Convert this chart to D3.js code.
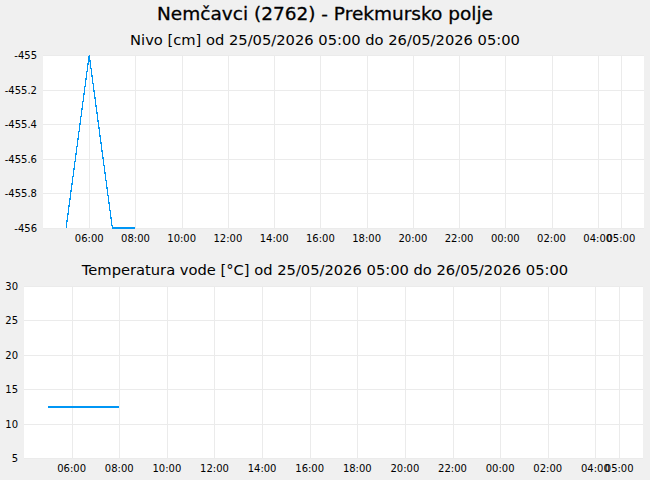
<!DOCTYPE html>
<html>
<head>
<meta charset="utf-8">
<script src="https://cdn.jsdelivr.net/npm/d3@7"></script>
<style>
  body { margin: 0; background: #f0f0f0; }
  text { font-family: "DejaVu Sans", sans-serif; fill: #000; }
</style>
</head>
<body>
<div id="chart"></div>
<script>
const title = "Nemčavci (2762) - Prekmursko polje";
const nivoTitle = "Nivo [cm] od 25/05/2026 05:00 do 26/05/2026 05:00";
const tempTitle = "Temperatura vode [°C] od 25/05/2026 05:00 do 26/05/2026 05:00";

const nivoTimes = ["2026-05-25 05:00", "2026-05-25 06:00", "2026-05-25 07:00", "2026-05-25 08:00"];
const nivoValues = [-456, -455, -456, -456];
const nivoTicks = [-456, -455.8, -455.6, -455.4, -455.2, -455];

const tempTimes = ["2026-05-25 05:00", "2026-05-25 08:00"];
const tempValues = [12.4, 12.4];
const tempTicks = [5, 10, 15, 20, 25, 30];

const periodStart = "2026-05-25 05:00";
const periodEnd = "2026-05-26 05:00";

const parse = d3.timeParse("%Y-%m-%d %H:%M");
const fmt = d3.timeFormat("%H:%M");
const fmtY = d => String(+d.toFixed(1));

const width = 650, height = 480;

const svg = d3.select("#chart")
  .append("svg")
  .attr("width", width)
  .attr("height", height);

svg.append("rect")
  .attr("width", width)
  .attr("height", height)
  .attr("fill", "#f0f0f0");

svg.append("text")
  .attr("x", 325)
  .attr("y", 20)
  .attr("text-anchor", "middle")
  .style("font-size", "18.5px")
  .style("stroke", "#000")
  .style("stroke-width", 0.3)
  .text(title);

function drawPanel(opts) {
  const { times, values, yTicks, yDomain, left, right, top, bottom, subtitle, subtitleY, lineWidth } = opts;
  const t0 = parse(periodStart), t1 = parse(periodEnd);

  const x = d3.scaleTime()
    .domain([d3.timeHour.offset(t0, -1), d3.timeHour.offset(t1, 1)])
    .range([left, right]);

  const y = d3.scaleLinear()
    .domain(yDomain)
    .range([bottom, top]);

  svg.append("text")
    .attr("x", 325)
    .attr("y", subtitleY)
    .attr("text-anchor", "middle")
    .style("font-size", "14.7px")
    .text(subtitle);

  svg.append("rect")
    .attr("x", left)
    .attr("y", top)
    .attr("width", right - left)
    .attr("height", bottom - top)
    .attr("fill", "#fff");

  // x ticks every 2h plus the period end
  const xTicks = d3.timeHour.range(d3.timeHour.offset(t0, 1), t1, 2).concat([t1]);

  const g = svg.append("g");

  g.selectAll(".vgrid")
    .data(xTicks)
    .enter()
    .append("line")
    .attr("x1", d => Math.round(x(d)) + 0.5)
    .attr("x2", d => Math.round(x(d)) + 0.5)
    .attr("y1", top)
    .attr("y2", bottom)
    .attr("stroke", "#ebebeb")
    .attr("stroke-width", 1);

  g.selectAll(".hgrid")
    .data(yTicks)
    .enter()
    .append("line")
    .attr("x1", left)
    .attr("x2", right)
    .attr("y1", d => Math.round(y(d)) + 0.5)
    .attr("y2", d => Math.round(y(d)) + 0.5)
    .attr("stroke", "#ebebeb")
    .attr("stroke-width", 1);

  g.selectAll(".xlab")
    .data(xTicks)
    .enter()
    .append("text")
    .attr("x", d => x(d))
    .attr("y", bottom + 14)
    .attr("text-anchor", "middle")
    .style("font-size", "10px")
    .text(d => fmt(d));

  g.selectAll(".ylab")
    .data(yTicks)
    .enter()
    .append("text")
    .attr("x", left - 6)
    .attr("y", d => y(d) + 4)
    .attr("text-anchor", "end")
    .style("font-size", "10px")
    .text(d => fmtY(d));

  const pts = times.map((t, i) => ({ t: parse(t), v: values[i] }));

  const line = d3.line()
    .x(d => x(d.t))
    .y(d => y(d.v));

  g.append("path")
    .datum(pts)
    .attr("d", line)
    .attr("fill", "none")
    .attr("stroke", "#0096f5")
    .attr("stroke-width", lineWidth)
    .attr("shape-rendering", "crispEdges");
}

drawPanel({
  times: nivoTimes, values: nivoValues, yTicks: nivoTicks, yDomain: [-456, -455],
  left: 43, right: 644, top: 55, bottom: 228,
  subtitle: nivoTitle, subtitleY: 45, lineWidth: 1.2
});

drawPanel({
  times: tempTimes, values: tempValues, yTicks: tempTicks, yDomain: [5, 30],
  left: 24, right: 643, top: 286, bottom: 458,
  subtitle: tempTitle, subtitleY: 275, lineWidth: 2
});
</script>
</body>
</html>
